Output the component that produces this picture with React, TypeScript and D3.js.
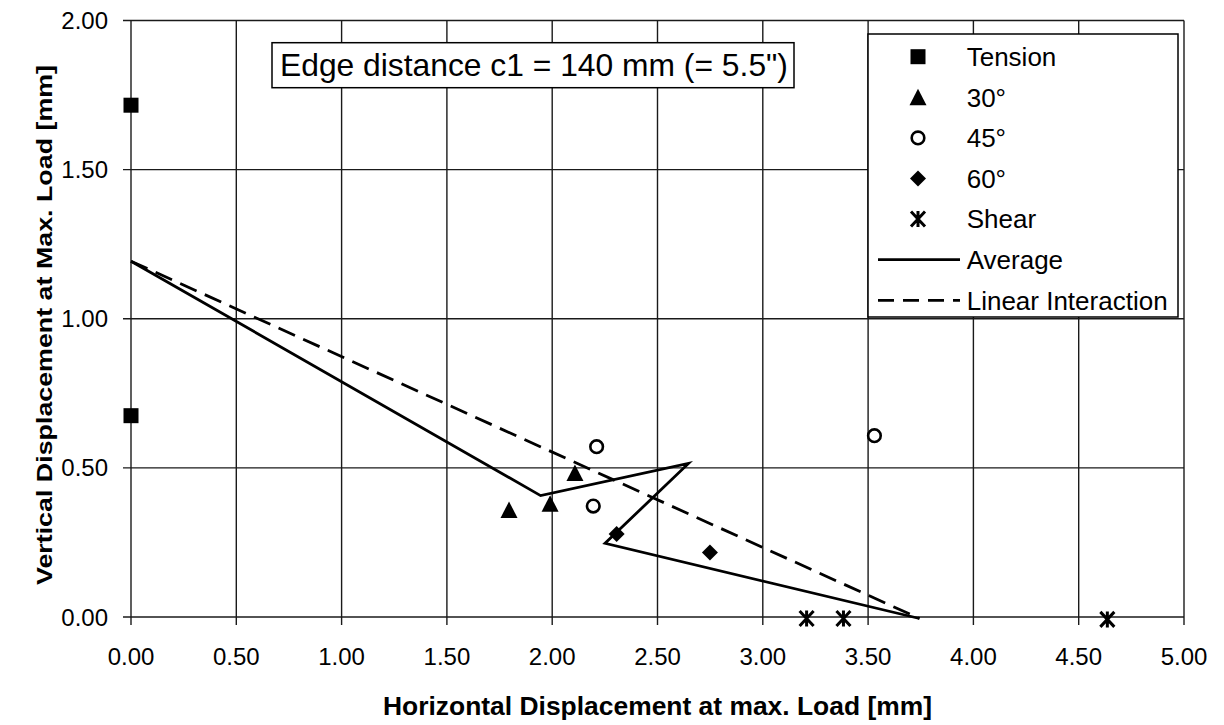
import React from "react";
import * as d3 from "d3";

const xTicks = [0, 0.5, 1, 1.5, 2, 2.5, 3, 3.5, 4, 4.5, 5];
const yTicks = [0, 0.5, 1, 1.5, 2];

const tension: [number, number][] = [[0, 1.716], [0, 0.675]];
const deg30: [number, number][] = [[1.795, 0.359], [1.99, 0.38], [2.108, 0.483]];
const deg45: [number, number][] = [[2.211, 0.571], [2.195, 0.372], [3.53, 0.608]];
const deg60: [number, number][] = [[2.306, 0.278], [2.749, 0.216]];
const shear: [number, number][] = [[3.208, -0.005], [3.383, -0.005], [4.636, -0.008]];
const average: [number, number][] = [[0, 1.193], [1.945, 0.407], [2.647, 0.515], [2.251, 0.247], [3.744, -0.005]];
const linear: [number, number][] = [[0, 1.193], [3.744, -0.005]];

const legendLabels = ["Tension", "30°", "45°", "60°", "Shear", "Average", "Linear Interaction"];

const FONT = "'Liberation Sans', Arial, Helvetica, sans-serif";

const x = d3.scaleLinear().domain([0, 5]).range([131, 1184]);
const y = d3.scaleLinear().domain([0, 2]).range([617, 20.5]);

type Kind = "square" | "triangle" | "circle" | "diamond" | "shear";

function Marker({ kind, cx, cy }: { kind: Kind; cx: number; cy: number }) {
  if (kind === "square") return <rect x={cx - 7.5} y={cy - 7.5} width={15} height={15} fill="#000" />;
  if (kind === "triangle") {
    const p = d3.path();
    p.moveTo(cx, cy - 8.5);
    p.lineTo(cx + 8.5, cy + 8);
    p.lineTo(cx - 8.5, cy + 8);
    p.closePath();
    return <path d={p.toString()} fill="#000" />;
  }
  if (kind === "circle") return <circle cx={cx} cy={cy} r={6.3} fill="#fff" stroke="#000" strokeWidth={2.6} />;
  if (kind === "diamond") {
    const p = d3.path();
    p.moveTo(cx, cy - 8);
    p.lineTo(cx + 8, cy);
    p.lineTo(cx, cy + 8);
    p.lineTo(cx - 8, cy);
    p.closePath();
    return <path d={p.toString()} fill="#000" />;
  }
  const p = d3.path();
  p.moveTo(cx - 7, cy - 7.5);
  p.lineTo(cx + 7, cy + 7.5);
  p.moveTo(cx + 7, cy - 7.5);
  p.lineTo(cx - 7, cy + 7.5);
  p.moveTo(cx, cy - 8);
  p.lineTo(cx, cy + 8);
  return <path d={p.toString()} stroke="#000" strokeWidth={3} fill="none" />;
}

export default function App() {
  const line = d3.line<[number, number]>().x(d => x(d[0])).y(d => y(d[1]));
  const series: { kind: Kind; data: [number, number][] }[] = [
    { kind: "square", data: tension },
    { kind: "triangle", data: deg30 },
    { kind: "circle", data: deg45 },
    { kind: "diamond", data: deg60 },
    { kind: "shear", data: shear },
  ];
  const legX = 868, legY = 34, legW = 310, legH = 283;
  const rowY = (i: number) => 56.7 + i * 40.6;
  return (
    <svg width={1224} height={725} style={{ position: "absolute", left: 0, top: 0, background: "#fff" }} fontFamily={FONT}>
      <rect width={1224} height={725} fill="#fff" />
      {xTicks.map(t => (
        <line key={"gx" + t} x1={x(t)} x2={x(t)} y1={y(2)} y2={y(0) + 8} stroke="#1a1a1a" strokeWidth={1.4} />
      ))}
      {yTicks.map(t => (
        <line key={"gy" + t} x1={x(0) - 8} x2={x(5)} y1={y(t)} y2={y(t)} stroke="#1a1a1a" strokeWidth={1.4} />
      ))}
      {xTicks.map(t => (
        <text key={"tx" + t} x={x(t)} y={665} fontSize={24} textAnchor="middle" fill="#000">{t.toFixed(2)}</text>
      ))}
      {yTicks.map(t => (
        <text key={"ty" + t} x={108} y={y(t) + 8.5} fontSize={24} textAnchor="end" fill="#000">{t.toFixed(2)}</text>
      ))}
      <text x={657.5} y={715} fontSize={26} fontWeight="bold" textAnchor="middle" textLength={549} lengthAdjust="spacingAndGlyphs">Horizontal Displacement at max. Load [mm]</text>
      <text transform="translate(52,325) rotate(-90)" fontSize={22} fontWeight="bold" textAnchor="middle" textLength={520} lengthAdjust="spacingAndGlyphs">Vertical Displacement at Max. Load [mm]</text>
      <path d={line(linear) || ""} fill="none" stroke="#000" strokeWidth={2.8} strokeDasharray="18 9" />
      <path d={line(average) || ""} fill="none" stroke="#000" strokeWidth={2.8} strokeLinejoin="miter" />
      {series.map(s => s.data.map((d, i) => <Marker key={s.kind + i} kind={s.kind} cx={x(d[0])} cy={y(d[1])} />))}
      <rect x={272} y={42.7} width={522} height={45} fill="#fff" stroke="#000" strokeWidth={1.5} />
      <text x={280} y={75.5} fontSize={31.8} fill="#000">Edge distance c1 = 140 mm (= 5.5")</text>
      <rect x={legX} y={legY} width={legW} height={legH} fill="#fff" stroke="#000" strokeWidth={1.5} />
      {legendLabels.map((lab, i) => (
        <text key={lab} x={966.7} y={rowY(i) + 9.3} fontSize={26} fill="#000">{lab}</text>
      ))}
      {series.map((s, i) => <Marker key={"lm" + i} kind={s.kind} cx={918} cy={rowY(i)} />)}
      <line x1={878} x2={960} y1={rowY(5)} y2={rowY(5)} stroke="#000" strokeWidth={2.8} />
      <line x1={878} x2={960} y1={rowY(6)} y2={rowY(6)} stroke="#000" strokeWidth={2.8} strokeDasharray="16 9" />
    </svg>
  );
}
